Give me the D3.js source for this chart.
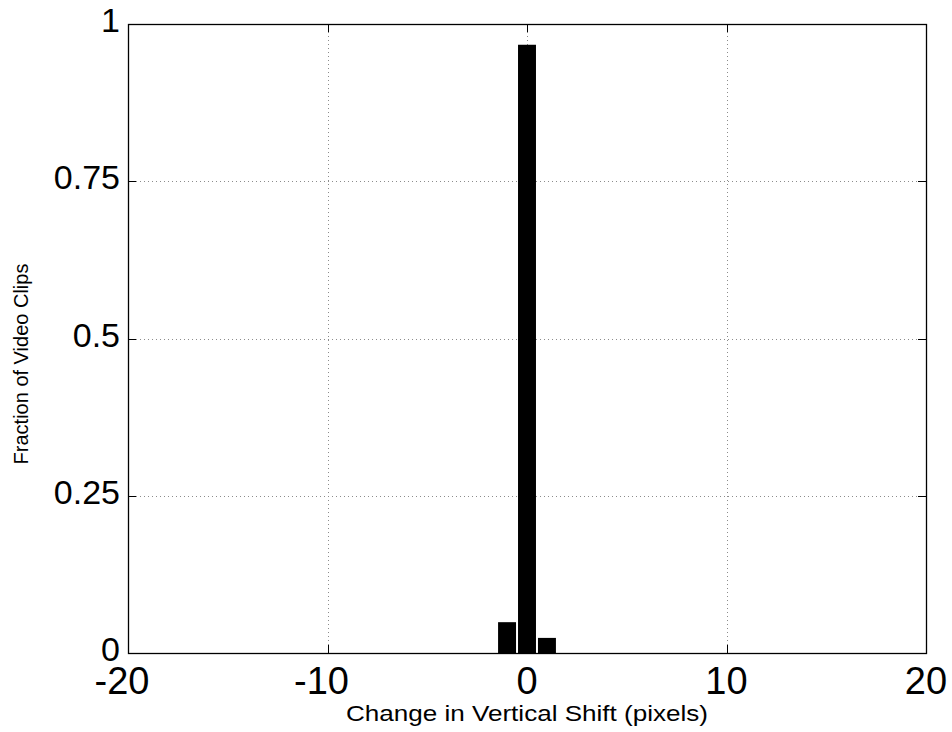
<!DOCTYPE html>
<html>
<head>
<meta charset="utf-8">
<script src="https://cdn.jsdelivr.net/npm/d3@7"></script>
<style>
  body { margin: 0; background: #fff; }
  text { font-family: "Liberation Sans", Arial, sans-serif; fill: #000; }
</style>
</head>
<body>
<svg id="chart"></svg>
<script>
// histogram bins (change in vertical shift) and fractions
const shifts = [-1, 0, 1];
const fractions = [0.049, 0.967, 0.024];
const xTicks = [-20, -10, 0, 10, 20];
const yTicks = [0, 0.25, 0.5, 0.75, 1];
const yTickLabels = ["0", "0.25", "0.5", "0.75", "1"];

const W = 952, H = 732;
const margin = { top: 24, right: 26, bottom: 79, left: 128 };
const width = W - margin.left - margin.right;
const height = H - margin.top - margin.bottom;

const svg = d3.select("#chart")
    .attr("width", W)
    .attr("height", H);

const g = svg.append("g")
    .attr("transform", `translate(${margin.left},${margin.top})`);

const x = d3.scaleLinear().domain([-20, 20]).range([0, width]);
const y = d3.scaleLinear().domain([0, 1]).range([height, 0]);

// dotted grid
g.selectAll(".gx")
    .data(xTicks.slice(1, -1))
    .enter()
    .append("line")
    .attr("x1", d => Math.round(x(d)) + 0.5)
    .attr("x2", d => Math.round(x(d)) + 0.5)
    .attr("y1", 0)
    .attr("y2", height)
    .attr("stroke", "#8c8c8c")
    .attr("stroke-dasharray", "1,3");

g.selectAll(".gy")
    .data(yTicks.slice(1))
    .enter()
    .append("line")
    .attr("x1", 0)
    .attr("x2", width)
    .attr("y1", d => Math.round(y(d)) + 0.5)
    .attr("y2", d => Math.round(y(d)) + 0.5)
    .attr("stroke", "#8c8c8c")
    .attr("stroke-dasharray", "1,3");

// bars
const barW = x(0.9) - x(0);
g.selectAll(".bar")
    .data(shifts)
    .enter()
    .append("rect")
    .attr("x", (d) => x(d) - barW / 2)
    .attr("y", (d, i) => y(fractions[i]))
    .attr("width", barW)
    .attr("height", (d, i) => height - y(fractions[i]))
    .attr("fill", "#000");

// box
g.append("rect")
    .attr("x", 0.5)
    .attr("y", 0.5)
    .attr("width", width)
    .attr("height", height)
    .attr("fill", "none")
    .attr("stroke", "#000")
    .attr("stroke-width", 1.3);

// inward ticks on all four sides
const tickLen = 8;
xTicks.forEach(t => {
    const px = Math.round(x(t)) + 0.5;
    g.append("line").attr("x1", px).attr("x2", px)
        .attr("y1", height).attr("y2", height - tickLen).attr("stroke", "#000");
    g.append("line").attr("x1", px).attr("x2", px)
        .attr("y1", 0).attr("y2", tickLen).attr("stroke", "#000");
});
yTicks.forEach(t => {
    const py = Math.round(y(t)) + 0.5;
    g.append("line").attr("x1", 0).attr("x2", tickLen)
        .attr("y1", py).attr("y2", py).attr("stroke", "#000");
    g.append("line").attr("x1", width).attr("x2", width - tickLen)
        .attr("y1", py).attr("y2", py).attr("stroke", "#000");
});

// tick labels
g.selectAll(".xl")
    .data(xTicks)
    .enter()
    .append("text")
    .attr("x", d => x(d))
    .attr("dx", d => d < 0 ? -6 : 0)
    .attr("y", height + 41)
    .attr("text-anchor", "middle")
    .style("font-size", "38px")
    .text(d => d);

g.selectAll(".yl")
    .data(yTicks)
    .enter()
    .append("text")
    .attr("x", -8)
    .attr("y", d => y(d) + 8)
    .attr("text-anchor", "end")
    .style("font-size", "34px")
    .text((d, i) => yTickLabels[i]);

// axis titles
svg.append("text")
    .attr("x", margin.left + width / 2)
    .attr("y", 721)
    .attr("text-anchor", "middle")
    .attr("textLength", 362)
    .attr("lengthAdjust", "spacingAndGlyphs")
    .style("font-size", "22px")
    .text("Change in Vertical Shift (pixels)");

svg.append("text")
    .attr("transform", "translate(28,364) rotate(-90)")
    .attr("text-anchor", "middle")
    .style("font-size", "20px")
    .text("Fraction of Video Clips");
</script>
</body>
</html>
